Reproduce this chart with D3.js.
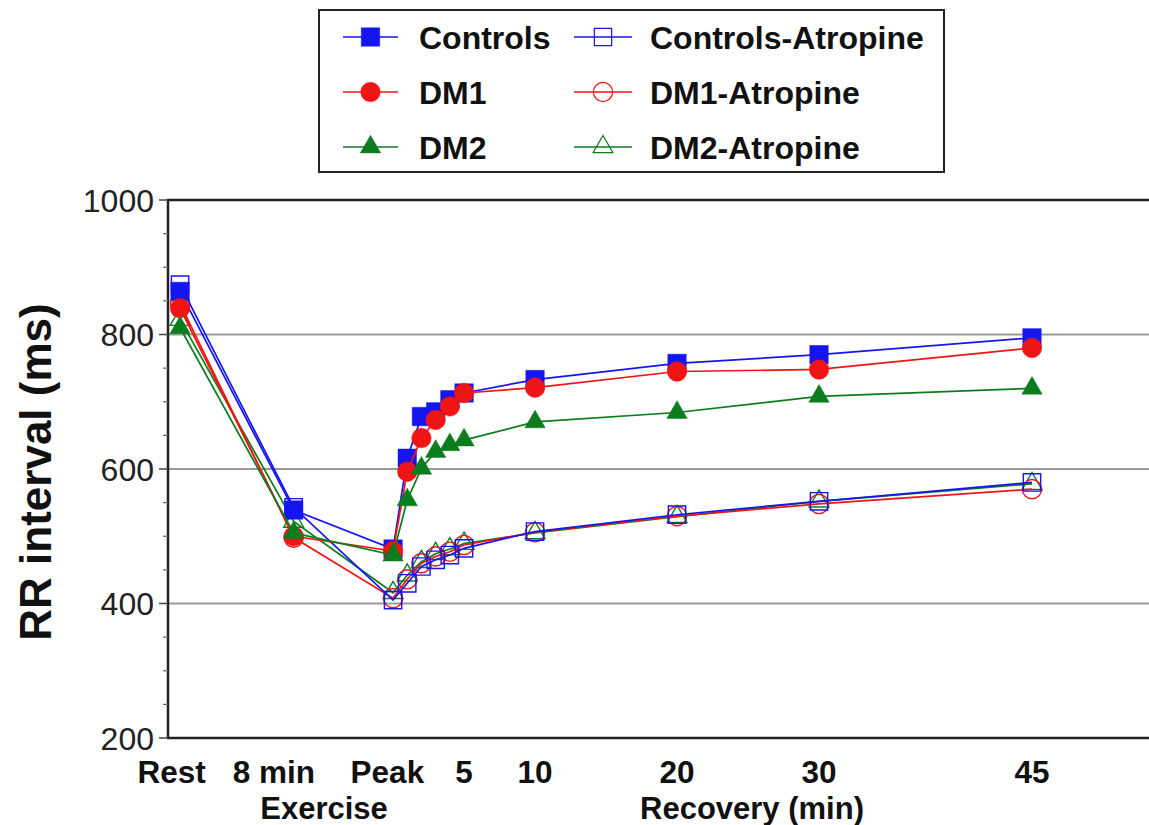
<!DOCTYPE html>
<html lang="en">
  <head>
    <meta charset="utf-8" />
    <title>RR interval during exercise and recovery</title>
    <style>
      body {
        margin: 0;
        background: #fff;
        overflow: hidden;
      }
      svg {
        display: block;
        font-family: 'Liberation Sans', Arial, Helvetica, sans-serif;
      }
    </style>
  </head>
  <body>
    <div class="container"></div>
    <script src="https://cdn.jsdelivr.net/npm/d3@7"></script>
    <script>
      // time points, in minutes relative to peak exercise (Rest and 8 min sit before it)
      const timePoints = [-15, -7, 0, 1, 2, 3, 4, 5, 10, 20, 30, 45];
      // label anchors (the exercise labels sit a little left of their points)
      const tickTimes = [-15.6, -8.4, -0.4, 5, 10, 20, 30, 45];
      const tickLabels = ['Rest', '8 min', 'Peak', '5', '10', '20', '30', '45'];
      const yTicks = [200, 400, 600, 800, 1000];

      const controls = [864, 539, 481, 616, 678, 685, 703, 713, 733, 757, 770, 795];
      const dm1 = [839, 500, 478, 596, 646, 673, 693, 713, 721, 745, 748, 780];
      const dm2 = [810, 505, 472, 554, 601, 626, 636, 643, 670, 684, 708, 720];
      const controlsAtr = [874, 543, 405, 430, 455, 465, 472, 482, 507, 532, 552, 580];
      const dm1Atr = [846, 498, 408, 436, 460, 470, 477, 487, 506, 530, 548, 570];
      const dm2Atr = [822, 522, 416, 442, 462, 474, 481, 489, 505, 529, 552, 578];

      const blue = '#1515f0';
      const red = '#f01515';
      const green = '#0c7d1e';

      // drawing order: open (atropine) series under the filled ones
      const series = [
        { name: 'DM2-Atropine', values: dm2Atr, color: green, shape: d3.symbolTriangle, size: 170, filled: false },
        { name: 'DM1-Atropine', values: dm1Atr, color: red, shape: d3.symbolCircle, size: 290, filled: false },
        { name: 'Controls-Atropine', values: controlsAtr, color: blue, shape: d3.symbolSquare, size: 300, filled: false },
        { name: 'Controls', values: controls, color: blue, shape: d3.symbolSquare, size: 340, filled: true },
        { name: 'DM1', values: dm1, color: red, shape: d3.symbolCircle, size: 300, filled: true },
        { name: 'DM2', values: dm2, color: green, shape: d3.symbolTriangle, size: 180, filled: true },
      ];
      const legendOrder = ['Controls', 'Controls-Atropine', 'DM1', 'DM1-Atropine', 'DM2', 'DM2-Atropine'];

      const width = 1149;
      const height = 825;
      const plotLeft = 168;
      const plotTop = 200;
      const plotBottom = 738;

      const svg = d3
        .select('div.container')
        .append('svg')
        .attr('width', width)
        .attr('height', height);

      const x = d3.scaleLinear().domain([-15.85, 53.24]).range([plotLeft, width]);
      const y = d3.scaleLinear().domain([200, 1000]).range([plotBottom, plotTop]);

      // gridlines
      svg
        .append('g')
        .selectAll('line')
        .data([400, 600, 800])
        .join('line')
        .attr('x1', plotLeft)
        .attr('x2', width)
        .attr('y1', (d) => y(d))
        .attr('y2', (d) => y(d))
        .attr('stroke', '#9a9a9a')
        .attr('stroke-width', 2);

      // frame: top, left, bottom
      svg
        .append('path')
        .attr('d', `M${width},${plotTop}H${plotLeft}V${plotBottom}H${width}`)
        .attr('fill', 'none')
        .attr('stroke', '#222')
        .attr('stroke-width', 2.5);

      // y axis ticks (major + minor)
      const yAxis = svg.append('g').attr('transform', `translate(${plotLeft},0)`);
      yAxis
        .selectAll('line.minor')
        .data(d3.range(250, 1000, 50).filter((v) => v % 200 !== 0))
        .join('line')
        .attr('class', 'minor')
        .attr('x1', -5)
        .attr('x2', 0)
        .attr('y1', (d) => y(d))
        .attr('y2', (d) => y(d))
        .attr('stroke', '#666')
        .attr('stroke-width', 1.2);
      yAxis
        .selectAll('line.major')
        .data(yTicks)
        .join('line')
        .attr('class', 'major')
        .attr('x1', -9)
        .attr('x2', 0)
        .attr('y1', (d) => y(d))
        .attr('y2', (d) => y(d))
        .attr('stroke', '#444')
        .attr('stroke-width', 1.5);
      yAxis
        .selectAll('text')
        .data(yTicks)
        .join('text')
        .attr('x', -14)
        .attr('y', (d) => y(d))
        .attr('dy', '0.36em')
        .attr('text-anchor', 'end')
        .style('font-size', '32px')
        .style('fill', '#222')
        .text((d) => d);

      svg
        .append('text')
        .attr('transform', `translate(51,472) rotate(-90)`)
        .attr('text-anchor', 'middle')
        .style('font-size', '44px')
        .style('font-weight', 'bold')
        .style('fill', '#111')
        .text('RR interval (ms)');

      // x tick labels
      svg
        .append('g')
        .selectAll('text')
        .data(tickTimes)
        .join('text')
        .attr('x', (d) => x(d))
        .attr('y', 783)
        .attr('text-anchor', 'middle')
        .style('font-size', '31.5px')
        .style('font-weight', 'bold')
        .style('fill', '#111')
        .text((d, i) => tickLabels[i]);

      svg
        .append('text')
        .attr('x', 324)
        .attr('y', 819)
        .attr('text-anchor', 'middle')
        .style('font-size', '31px')
        .style('font-weight', 'bold')
        .style('fill', '#111')
        .text('Exercise');
      svg
        .append('text')
        .attr('x', 752)
        .attr('y', 819)
        .attr('text-anchor', 'middle')
        .style('font-size', '31px')
        .style('font-weight', 'bold')
        .style('fill', '#111')
        .text('Recovery (min)');

      // series
      const line = d3
        .line()
        .x((d, i) => x(timePoints[i]))
        .y((d) => y(d));

      const plot = svg.append('g');
      series.forEach((s) => {
        const g = plot.append('g');
        g.append('path')
          .attr('d', line(s.values))
          .attr('fill', 'none')
          .attr('stroke', s.color)
          .attr('stroke-width', 1.7);
        g.selectAll('path.pt')
          .data(s.values)
          .join('path')
          .attr('class', 'pt')
          .attr('transform', (d, i) => `translate(${x(timePoints[i])},${y(d)})`)
          .attr('d', d3.symbol().type(s.shape).size(s.size))
          .attr('fill', s.filled ? s.color : 'none')
          .attr('stroke', s.color)
          .attr('stroke-width', s.filled ? 0.5 : 1.4);
      });

      // legend
      svg
        .append('rect')
        .attr('x', 319)
        .attr('y', 10)
        .attr('width', 625)
        .attr('height', 162)
        .attr('fill', '#fff')
        .attr('stroke', '#222')
        .attr('stroke-width', 2);
      const cols = [
        { x1: 343, x2: 398, tx: 419 },
        { x1: 574, x2: 632, tx: 650 },
      ];
      const rows = [37, 92, 147];
      legendOrder.forEach((name, i) => {
        const s = series.find((d) => d.name === name);
        const c = cols[i % 2];
        const ly = rows[Math.floor(i / 2)];
        const lg = svg.append('g');
        lg.append('line')
          .attr('x1', c.x1)
          .attr('x2', c.x2)
          .attr('y1', ly)
          .attr('y2', ly)
          .attr('stroke', s.color)
          .attr('stroke-width', 1.6);
        lg.append('path')
          .attr('transform', `translate(${(c.x1 + c.x2) / 2},${ly})`)
          .attr('d', d3.symbol().type(s.shape).size(s.size))
          .attr('fill', s.filled ? s.color : 'none')
          .attr('stroke', s.color)
          .attr('stroke-width', s.filled ? 0.5 : 1.2);
        lg.append('text')
          .attr('x', c.tx)
          .attr('y', ly)
          .attr('dy', '0.36em')
          .style('font-size', '32px')
          .style('font-weight', 'bold')
          .style('fill', '#111')
          .text(s.name);
      });
    </script>
  </body>
</html>
